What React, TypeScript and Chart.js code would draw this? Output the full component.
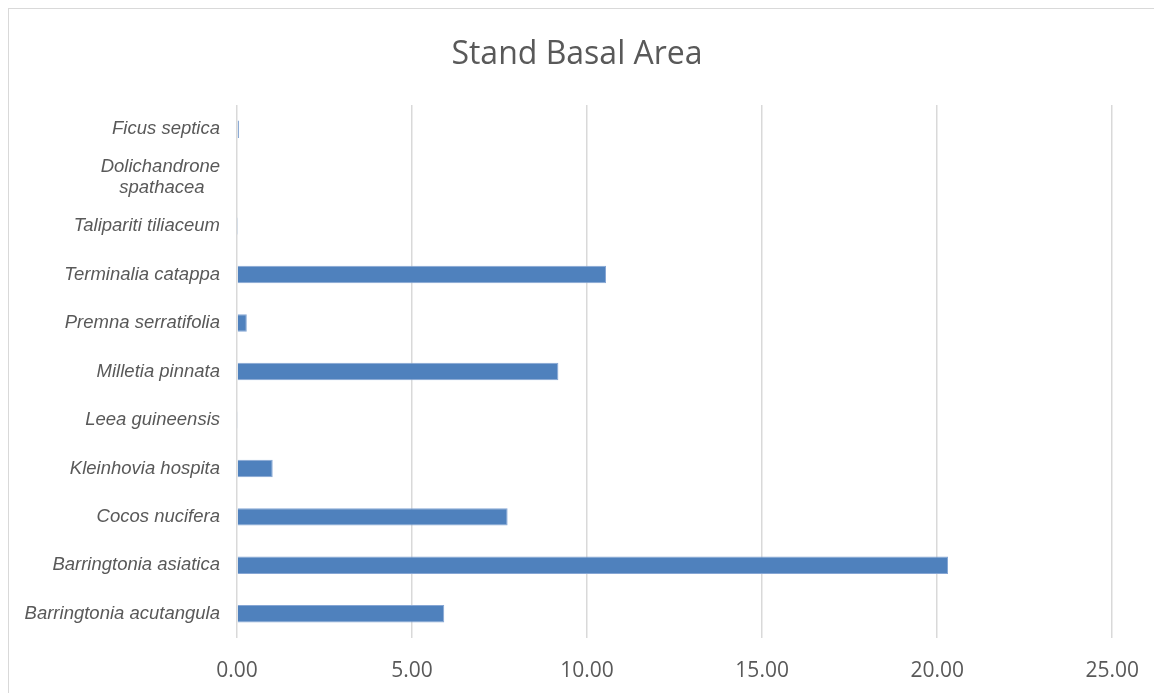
import React, { useEffect, useRef } from "react";
import { Chart, registerables } from "chart.js";

Chart.register(...registerables);

const chartTitle = "Stand Basal Area";

// Categories listed top to bottom as they appear on the chart
const species: (string | string[])[] = [
  "Ficus septica",
  ["Dolichandrone", "spathacea   "],
  "Talipariti tiliaceum",
  "Terminalia catappa",
  "Premna serratifolia",
  "Milletia pinnata",
  "Leea guineensis",
  "Kleinhovia hospita",
  "Cocos nucifera",
  "Barringtonia asiatica",
  "Barringtonia acutangula",
];

const basalArea = [0.06, 0, 0.01, 10.54, 0.28, 9.18, 0.03, 1.02, 7.73, 20.31, 5.92];

const xMin = 0;
const xMax = 25;
const xStep = 5;

const TEXT_COLOR = "#595959";

export default function App() {
  const ref = useRef<HTMLCanvasElement>(null);

  useEffect(() => {
    if (!ref.current) return;
    const chart = new Chart(ref.current, {
      type: "bar",
      data: {
        labels: species,
        datasets: [
          {
            data: basalArea,
            backgroundColor: "#4f81bd",
            borderColor: "#86a6d4",
            borderWidth: 1,
            barPercentage: 0.36,
            categoryPercentage: 1,
          },
        ],
      },
      options: {
        indexAxis: "y",
        animation: false,
        responsive: false,
        devicePixelRatio: 1,
        layout: { padding: { left: 0, right: 14, top: 0, bottom: 0 } },
        plugins: {
          legend: { display: false },
          tooltip: { enabled: false },
          title: {
            display: true,
            text: chartTitle,
            color: TEXT_COLOR,
            font: { family: "'Open Sans'", size: 32, weight: "normal", lineHeight: 1.2 },
            padding: { top: 27, bottom: 30.6 },
          },
        },
        scales: {
          x: {
            min: xMin,
            max: xMax,
            ticks: {
              stepSize: xStep,
              color: TEXT_COLOR,
              font: { family: "'Open Sans'", size: 21 },
              padding: 20,
              maxRotation: 0,
              callback: (v: any) => Number(v).toFixed(2),
            },
            grid: { color: "#d9d9d9", lineWidth: 1.5, drawTicks: false },
            border: { display: false },
            afterFit: (s: any) => {
              s.height = 71;
            },
          },
          y: {
            ticks: {
              color: TEXT_COLOR,
              font: { family: "'Liberation Sans'", size: 18.5, style: "italic", lineHeight: 1.15 },
              padding: 17,
              autoSkip: false,
            },
            grid: { display: false, drawTicks: false },
            border: { display: false },
            afterFit: (s: any) => {
              s.width = 228;
            },
          },
        },
      },
    });
    return () => chart.destroy();
  }, []);

  return (
    <div
      style={{
        position: "fixed",
        left: 8,
        top: 8,
        right: 0,
        bottom: 0,
        overflow: "hidden",
        background: "#ffffff",
      }}
    >
      <div
        style={{
          width: 1150,
          height: 700,
          border: "1px solid #d9d9d9",
          background: "#ffffff",
        }}
      >
        <canvas ref={ref} width={1150} height={700} style={{ display: "block" }} />
      </div>
    </div>
  );
}
